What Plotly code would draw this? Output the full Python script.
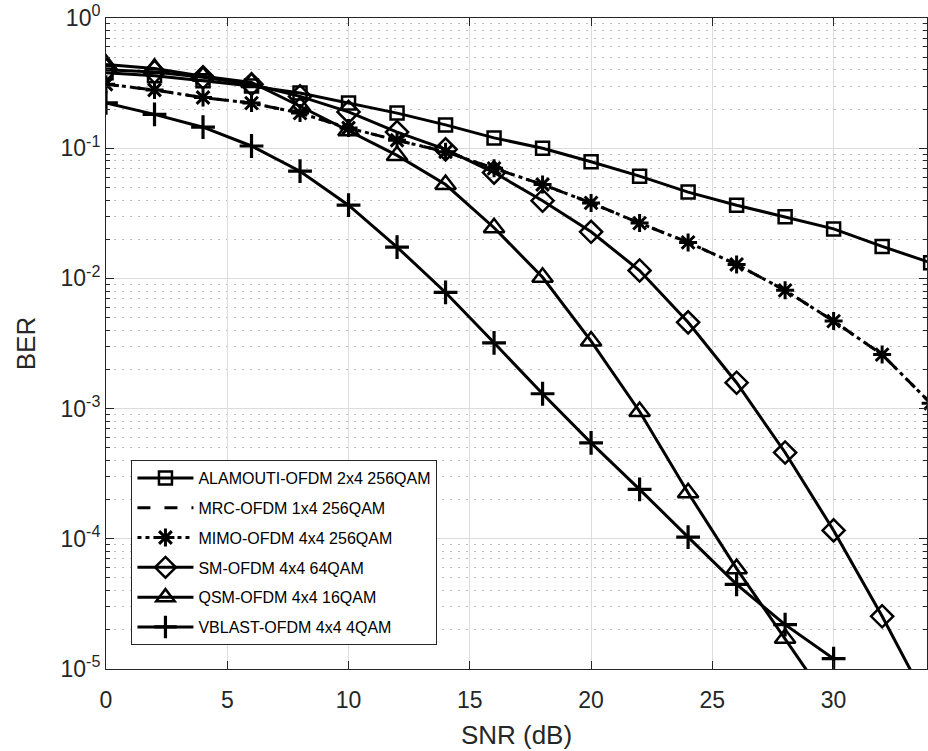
import plotly.graph_objects as go

snr = [0, 2, 4, 6, 8, 10, 12, 14, 16, 18, 20, 22, 24, 26, 28, 30, 32, 34]

ber_alamouti = [0.38, 0.36, 0.33, 0.30, 0.265, 0.222, 0.186, 0.151, 0.120, 0.100,
                0.0787, 0.061, 0.046, 0.0365, 0.0297, 0.024, 0.0176, 0.0132]
ber_mrc = [0.31, 0.28, 0.245, 0.222, 0.186, 0.143, 0.115, 0.094, 0.070, 0.0526,
           0.0380, 0.0266, 0.0189, 0.0128, 0.0081, 0.0047, 0.0026, 0.0011]
ber_mimo = [0.31, 0.28, 0.245, 0.222, 0.186, 0.143, 0.115, 0.094, 0.070, 0.0526,
            0.0380, 0.0266, 0.0189, 0.0128, 0.0081, 0.0047, 0.0026, 0.0011]
ber_sm = [0.40, 0.385, 0.35, 0.31, 0.25, 0.19, 0.133, 0.098, 0.065, 0.0395,
          0.0228, 0.0115, 0.0046, 0.00158, 0.00046, 0.000116, 0.0000254, 0.0000050]
snr_qsm = [0, 2, 4, 6, 8, 10, 12, 14, 16, 18, 20, 22, 24, 26, 28, 30]
ber_qsm = [0.44, 0.41, 0.357, 0.32, 0.21, 0.136, 0.088, 0.0526, 0.0245, 0.0102,
           0.0033, 0.00095, 0.000226, 0.000059, 0.0000172, 0.0000049]
snr_vblast = [0, 2, 4, 6, 8, 10, 12, 14, 16, 18, 20, 22, 24, 26, 28, 30]
ber_vblast = [0.223, 0.182, 0.145, 0.104, 0.0666, 0.0365, 0.0174, 0.0078, 0.0032,
              0.0013, 0.000546, 0.00024, 0.000103, 0.0000447, 0.0000219, 0.000012]

names = ["ALAMOUTI-OFDM 2x4 256QAM", "MRC-OFDM 1x4 256QAM", "MIMO-OFDM 4x4 256QAM",
         "SM-OFDM 4x4 64QAM", "QSM-OFDM 4x4 16QAM", "VBLAST-OFDM 4x4 4QAM"]

BLACK = "black"
LW = 3
fig = go.Figure()


def add(x, y, name, dash, symbol, size, mode="lines+markers", mlw=2.5):
    marker = dict(color=BLACK, size=size, line=dict(color=BLACK, width=mlw))
    if symbol:
        marker["symbol"] = symbol
    fig.add_trace(go.Scatter(
        x=x, y=y, name=name, mode=mode, legendgroup=name,
        line=dict(color=BLACK, width=LW, dash=dash),
        marker=marker,
    ))


add(snr, ber_alamouti, names[0], "solid", "square-open", 13)
add(snr, ber_mrc, names[1], "13px,14px", None, 1, mode="lines")
add(snr, ber_mimo, names[2], "4px,4px", "asterisk-open", 15, mlw=3)
add(snr, ber_sm, names[3], "solid", "diamond-open", 17)
add(snr_qsm, ber_qsm, names[4], "solid", "triangle-up-open", 18)
add(snr_vblast, ber_vblast, names[5], "solid", "cross-thin-open", 17, mlw=3.2)

AX = "#262626"
GRID = "#dcdcdc"
FONT = "Liberation Sans, Arial, Helvetica, sans-serif"

yvals = [1e-5, 1e-4, 1e-3, 1e-2, 1e-1, 1]
ytext = ["10<sup>-5</sup>", "10<sup>-4</sup>", "10<sup>-3</sup>", "10<sup>-2</sup>",
         "10<sup>-1</sup>", "10<sup>0</sup>"]
xvals = [0, 5, 10, 15, 20, 25, 30]

fig.update_layout(
    width=928, height=751,
    margin=dict(l=106, r=1, t=18, b=82),
    paper_bgcolor="white", plot_bgcolor="white",
    font=dict(family=FONT, size=23, color=AX),
    showlegend=True,
    legend=dict(
        x=0.031, y=0.321, xanchor="left", yanchor="top",
        bgcolor="white", bordercolor=AX, borderwidth=1,
        font=dict(family=FONT, size=16, color="black"),
        itemwidth=56, tracegroupgap=6,
    ),
    xaxis=dict(
        range=[0, 33.85], tickvals=xvals, ticktext=[str(v) for v in xvals],
        ticks="inside", ticklen=8, tickcolor=AX, tickwidth=1,
        showline=True, linecolor=AX, linewidth=1, mirror="ticks",
        showgrid=True, gridcolor=GRID, gridwidth=1, zeroline=False,
        title=dict(text="SNR (dB)", standoff=14, font=dict(size=26)),
        tickfont=dict(size=23), ticklabelstandoff=10,
    ),
    yaxis=dict(
        type="log", range=[-5, 0], tickvals=yvals, ticktext=ytext,
        ticks="inside", ticklen=8, tickcolor=AX, tickwidth=1,
        showline=True, linecolor=AX, linewidth=1, mirror="ticks",
        showgrid=True, gridcolor=GRID, gridwidth=1, zeroline=False,
        minor=dict(ticks="inside", ticklen=4, tickcolor=AX, dtick="D1",
                   showgrid=True, gridcolor="#bdbdbd", griddash="2px,6px", gridwidth=1),
        title=dict(text="BER", standoff=17, font=dict(size=26)),
        tickfont=dict(size=23),
    ),
)

fig.write_html("out.html")
